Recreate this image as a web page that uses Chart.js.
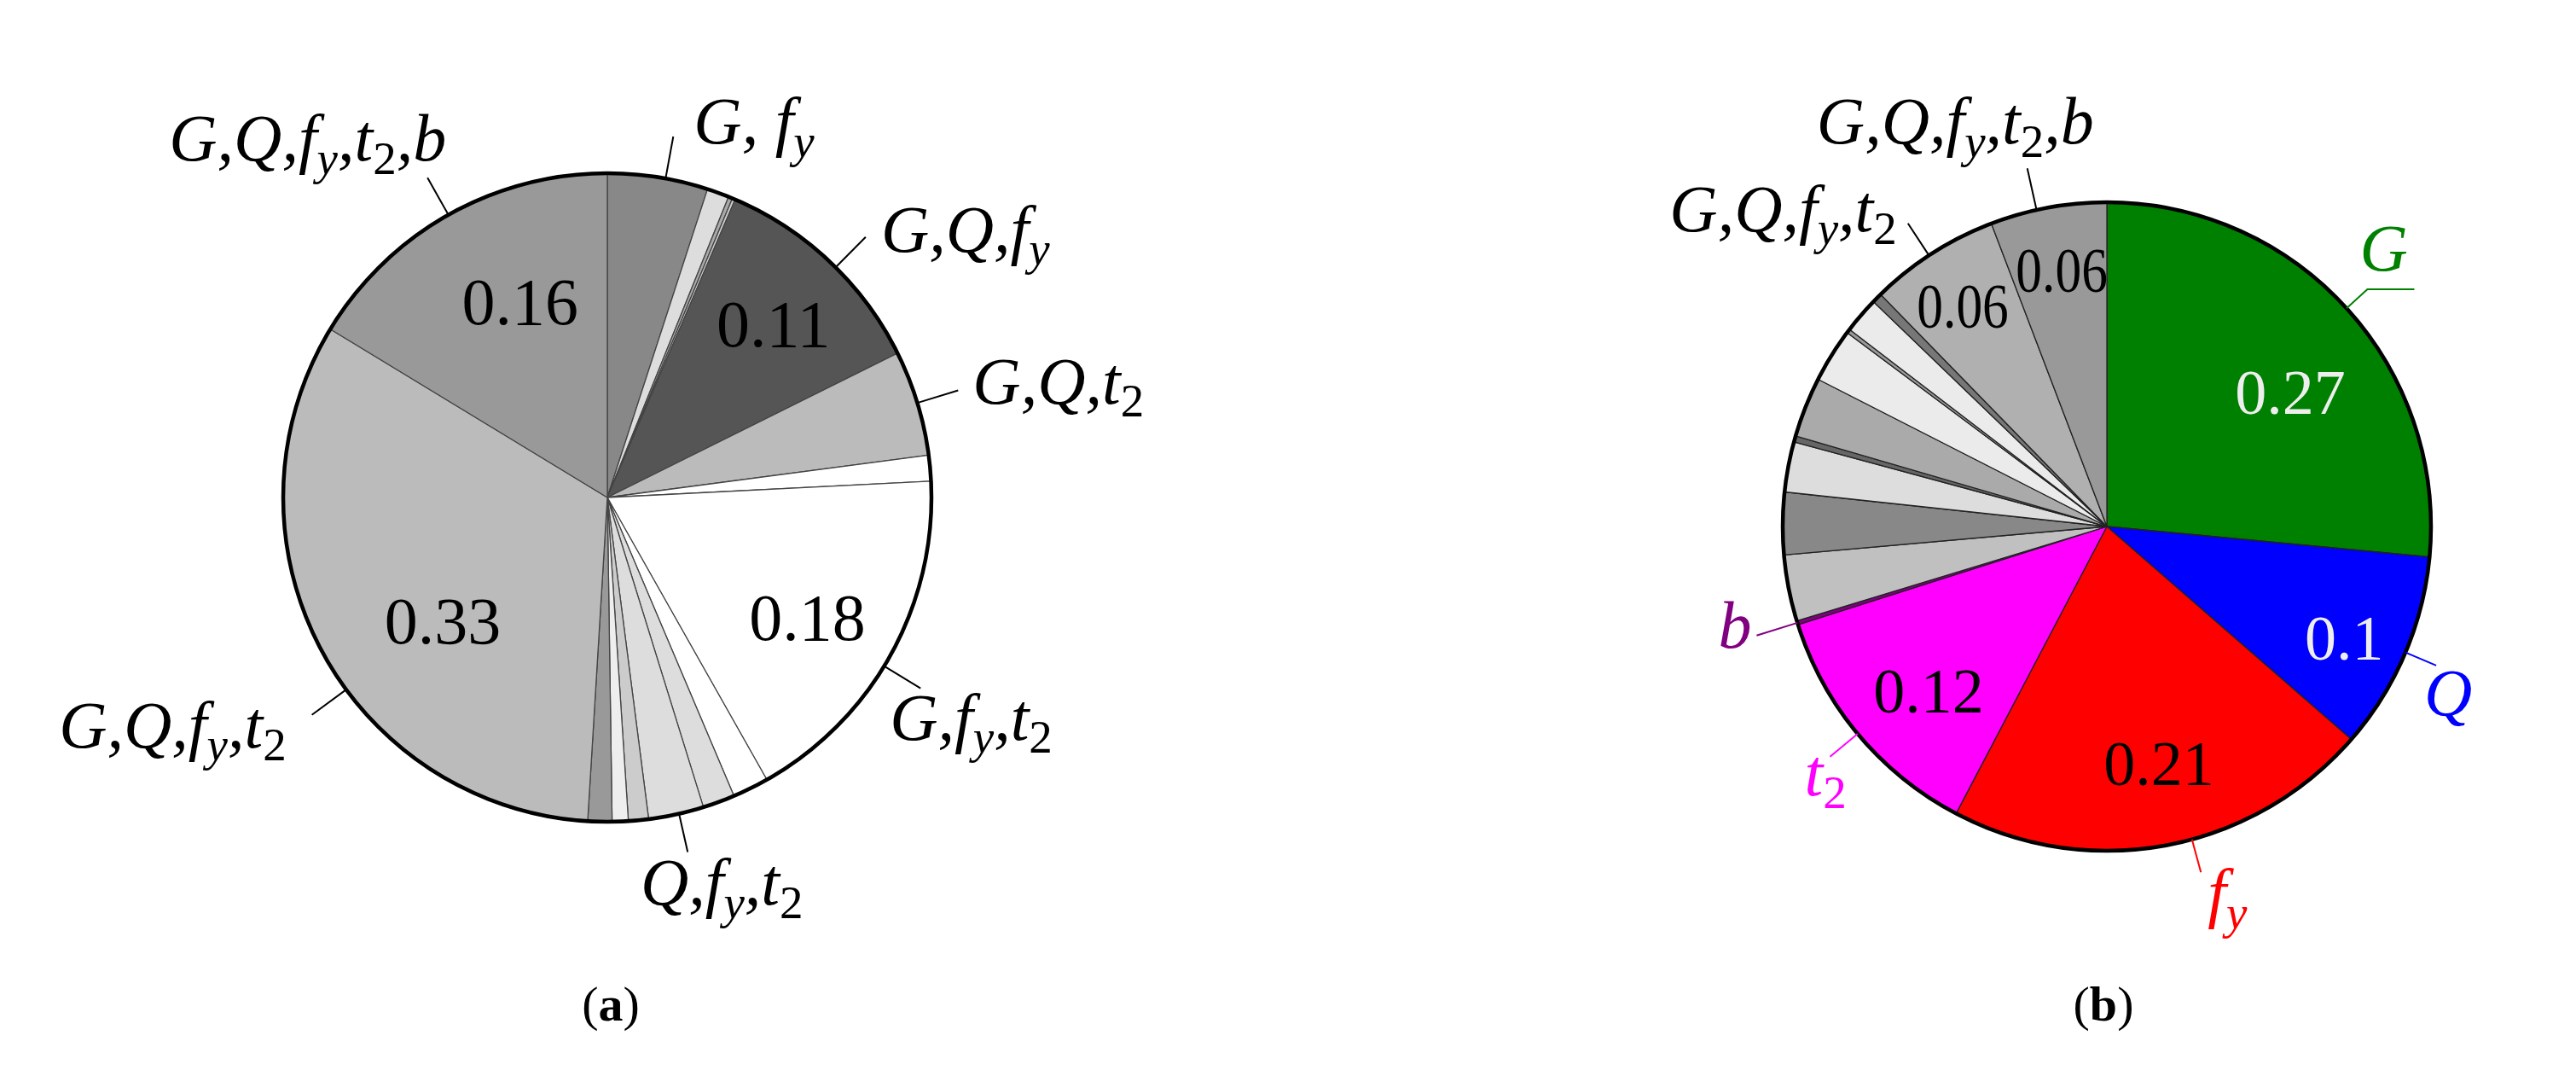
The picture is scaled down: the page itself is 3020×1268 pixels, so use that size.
<!DOCTYPE html>
<html><head><meta charset="utf-8">
<script src="https://cdn.jsdelivr.net/npm/chart.js@4.4.1/dist/chart.umd.min.js"></script>
<style>
html,body{margin:0;padding:0;background:#fff;width:3020px;height:1268px;overflow:hidden}
.box{position:absolute}
.cap{position:absolute;font-family:"Liberation Serif",serif;font-size:58px;color:#000;transform:translateX(-50%);line-height:1;white-space:nowrap}
</style></head><body>
<div class="box" id="boxA" style="left:0;top:0;width:1424px;height:1166px"><canvas id="cA"></canvas></div>
<div class="box" id="boxB" style="left:1920px;top:0;width:1100px;height:1234px"><canvas id="cB"></canvas></div>
<div class="cap" style="left:716px;top:1148px">(<b>a</b>)</div>
<div class="cap" style="left:2466px;top:1148px">(<b>b</b>)</div>
<script>
// ---------- data: chart (a) ----------
const categoriesA = ['G, f_y','a1','a2','a3','G,Q,f_y','G,Q,t_2','a6','G,f_y,t_2','a8','a9','Q,f_y,t_2','a11','a12','a13','G,Q,f_y,t_2','G,Q,f_y,t_2,b'];
const valuesA     = [0.050,0.011,0.002,0.0015,0.112,0.0525,0.0128,0.176,0.018,0.016,0.0275,0.010,0.008,0.012,0.327,0.163];
const colorsA     = ['#888888','#dddddd','#aaaaaa','#cccccc','#555555','#bbbbbb','#ffffff','#ffffff','#ffffff','#dddddd','#dddddd','#cccccc','#eeeeee','#999999','#bbbbbb','#999999'];
const shownA      = ['0.11','0.18','0.33','0.16'];

// ---------- data: chart (b) ----------
const categoriesB = ['G','Q','f_y','t_2','b','b5','b6','b7','b8','b9','b10','b11','b12','b13','G,Q,f_y,t_2','G,Q,f_y,t_2,b'];
const valuesB     = [0.265,0.099,0.213,0.124,0.002,0.033,0.031,0.025,0.003,0.030,0.027,0.002,0.018,0.005,0.065,0.058];
const colorsB     = ['#008000','#0000ff','#ff0000','#ff00ff','#800080','#c0c0c0','#888888','#dddddd','#666666','#aaaaaa','#ebebeb','#999999','#ebebeb','#777777','#b0b0b0','#999999'];
const shownB      = ['0.27','0.1','0.21','0.12','0.06','0.06'];

// ---------- annotation layout ----------
const valueLabelsA = [
  {i:4,  s:0, t:0.51, rf:0.74},
  {i:7,  s:1, t:0.535, rf:0.72},
  {i:14, s:2, t:0.42, rf:0.636},
  {i:15, s:3, t:0.59, rf:0.66}
];
const valueLabelsB = [
  {i:0,  s:0, t:0.565, rf:0.70, color:'#eeeeee'},
  {i:1,  s:1, t:0.56, rf:0.81, color:'#eeeeee'},
  {i:2,  s:2, t:0.477, rf:0.75},
  {i:3,  s:3, t:0.436, rf:0.75},
  {i:14, s:4, t:0.47, rf:0.81, sx:0.83},
  {i:15, s:5, t:0.52, rf:0.80, sx:0.83}
];
const calloutsA = [
  {i:15, t:0.5,   len:50, align:'right', dx:22,  dy:-20},
  {i:0,  t:0.575, len:50, align:'left',  dx:24,  dy:8},
  {i:4,  t:0.534, len:50, align:'left',  dx:18,  dy:17},
  {i:5,  t:0.5,   len:50, align:'left',  dx:17,  dy:15},
  {i:7,  t:0.54,  len:50, align:'left',  dx:-36, dy:60},
  {i:10, t:0.45,  len:46, align:'center',dx:40,  dy:62},
  {i:14, t:0.426, len:50, align:'right', dx:-30, dy:38}
];
const calloutsB = [
  {i:15, t:0.4,  len:50, align:'right', dx:78,  dy:-29, color:'#000'},
  {i:14, t:0.47, len:45, align:'right', dx:-13, dy:9,   color:'#000'},
  {i:0,  t:0.5,  len:33, align:'left',  dx:-9,  dy:-22, color:'#008000', hook:55},
  {i:1,  t:0.49, len:39, align:'left',  dx:-14, dy:58,  color:'#0000ff'},
  {i:2,  t:0.44, len:40, align:'left',  dx:8,   dy:50,  color:'#ff0000'},
  {i:3,  t:0.505,len:42, align:'left',  dx:-30, dy:45,  color:'#ff00ff'},
  {i:4,  t:0.5,  len:50, align:'right', dx:-6,  dy:14,  color:'#800080'}
];

const FAM = '"Liberation Serif", "Times New Roman", serif';

function tokens(s){
  const out=[];
  for(let k=0;k<s.length;k++){
    if(s[k]==='_'){out.push({c:s[k+1],sub:true});k++;}
    else out.push({c:s[k],sub:false});
  }
  return out;
}
function fontFor(tok,size){
  const sz = tok.sub ? Math.round(size*0.7) : size;
  const it = /[0-9]/.test(tok.c) ? '' : 'italic ';
  return it + sz + 'px ' + FAM;
}
function drawRich(ctx, s, x, y, size, align, color, sx){
  sx = sx || 1;
  const toks = tokens(s);
  let w = 0;
  toks.forEach(k=>{ctx.font=fontFor(k,size);k.w=ctx.measureText(k.c).width;w+=k.w;});
  w *= sx;
  let x0 = align==='right' ? x-w : align==='center' ? x-w/2 : x;
  ctx.save();
  ctx.fillStyle=color; ctx.textBaseline='alphabetic'; ctx.textAlign='left';
  ctx.translate(x0,y); ctx.scale(sx,1);
  let cx=0;
  toks.forEach(k=>{
    ctx.font=fontFor(k,size);
    ctx.fillText(k.c, cx, k.sub ? size*0.2 : 0);
    cx += k.w;
  });
  ctx.restore();
}

function makeAnnot(values, shown, callouts, cats, labelSize, numSize){
  return {
    id:'annot',
    afterDatasetsDraw(chart){
      const ctx = chart.ctx;
      const arcs = chart.getDatasetMeta(0).data;
      const a0 = arcs[0];
      const X=a0.x, Y=a0.y, R=a0.outerRadius;
      ctx.save();
      ctx.beginPath(); ctx.arc(X,Y,R,0,Math.PI*2);
      ctx.lineWidth=4.5; ctx.strokeStyle='#000'; ctx.stroke();
      values.forEach(v=>{
        const a = arcs[v.i];
        const ang = a.startAngle + v.t*(a.endAngle-a.startAngle);
        const px = X + R*v.rf*Math.cos(ang), py = Y + R*v.rf*Math.sin(ang);
        ctx.font = numSize+'px '+FAM;
        ctx.save();
        ctx.translate(px,py); ctx.scale(v.sx||1,1);
        ctx.fillStyle = v.color || '#000';
        ctx.textAlign='center'; ctx.textBaseline='alphabetic';
        ctx.fillText(shown[v.s], 0, numSize*0.33);
        ctx.restore();
      });
      callouts.forEach(c=>{
        const a = arcs[c.i];
        const ang = a.startAngle + c.t*(a.endAngle-a.startAngle);
        const sx = X + R*Math.cos(ang), sy = Y + R*Math.sin(ang);
        let ex = X + (R+c.len)*Math.cos(ang), ey = Y + (R+c.len)*Math.sin(ang);
        const col = c.color || '#000';
        ctx.beginPath(); ctx.moveTo(sx,sy); ctx.lineTo(ex,ey);
        if(c.hook){ ctx.lineTo(ex+c.hook, ey); }
        ctx.lineWidth=2; ctx.strokeStyle=col; ctx.stroke();
        drawRich(ctx, cats[c.i], ex+c.dx, ey+c.dy, labelSize, c.align, col, c.sx);
      });
      ctx.restore();
    }
  };
}

function makeChart(id, cats, vals, cols, borderCol, plugin){
  return new Chart(document.getElementById(id), {
    type:'pie',
    data:{labels:cats, datasets:[{data:vals, backgroundColor:cols, borderColor:borderCol, borderWidth:1.3}]},
    options:{
      responsive:true, maintainAspectRatio:false, animation:false, devicePixelRatio:1,
      radius:380, layout:{padding:0},
      plugins:{legend:{display:false}, tooltip:{enabled:false}}
    },
    plugins:[plugin]
  });
}

makeChart('cA', categoriesA, valuesA, colorsA, '#444444', makeAnnot(valueLabelsA, shownA, calloutsA, categoriesA, 78, 78));
makeChart('cB', categoriesB, valuesB, colorsB, '#222222', makeAnnot(valueLabelsB, shownB, calloutsB, categoriesB, 78, 74));
</script>
</body></html>
